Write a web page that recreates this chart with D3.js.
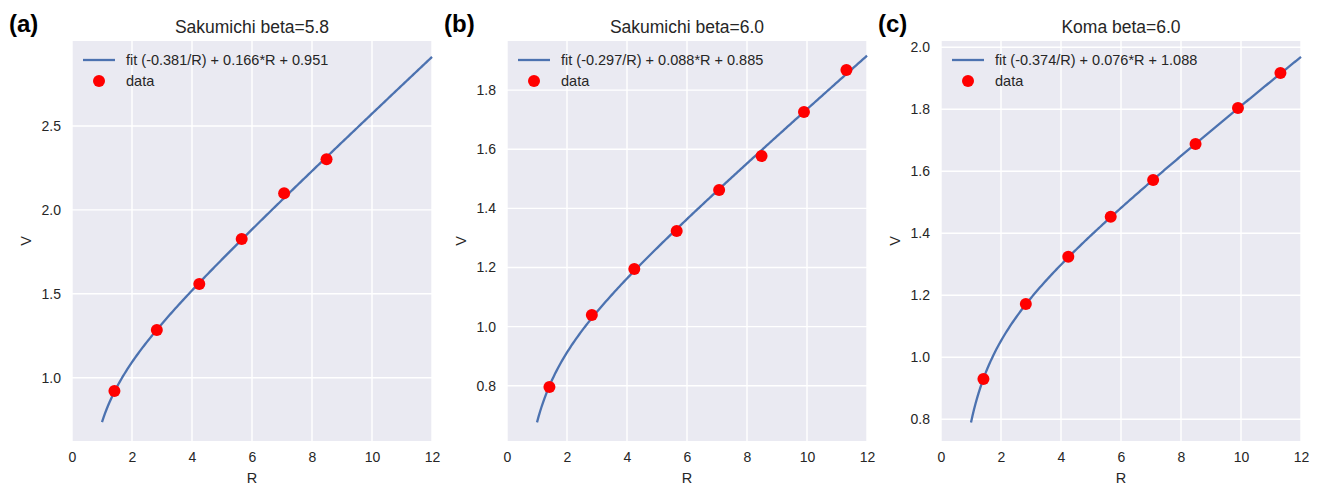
<!DOCTYPE html>
<html>
<head>
<meta charset="utf-8">
<script src="https://cdn.jsdelivr.net/npm/d3@7"></script>
<style>
  body { margin: 0; background: #fff; }
  text { font-family: "Liberation Sans", Arial, sans-serif; fill: #262626; }
  .tick text { font-size: 14px; }
  .titulo { font-size: 17.5px; }
  .rotulo { font-size: 24px; font-weight: bold; fill: #000; }
</style>
</head>
<body>
<svg id="grafico"></svg>
<script>
// Valores
var titulos = ['Sakumichi beta=5.8', 'Sakumichi beta=6.0', 'Koma beta=6.0'];
var rotulos = ['(a)', '(b)', '(c)'];
var legendas = ['fit (-0.381/R) + 0.166*R + 0.951',
                'fit (-0.297/R) + 0.088*R + 0.885',
                'fit (-0.374/R) + 0.076*R + 1.088'];

// Coeficientes do ajuste: V = a/R + b*R + c
var coefA = [-0.381, -0.297, -0.374];
var coefB = [0.166, 0.088, 0.076];
var coefC = [0.951, 0.885, 1.088];

var dadosR = [1.414, 2.828, 4.243, 5.657, 7.071, 8.485, 9.899, 11.314];
var dadosV = [
  [0.921, 1.284, 1.558, 1.826, 2.099, 2.301],
  [0.796, 1.039, 1.195, 1.323, 1.462, 1.577, 1.726, 1.868],
  [0.930, 1.172, 1.324, 1.453, 1.572, 1.688, 1.804, 1.917]
];

var ticksX = [0, 2, 4, 6, 8, 10, 12];
var ticksY = [
  [1.0, 1.5, 2.0, 2.5],
  [0.8, 1.0, 1.2, 1.4, 1.6, 1.8],
  [0.8, 1.0, 1.2, 1.4, 1.6, 1.8, 2.0]
];
var dominioY = [[0.623, 3.006], [0.613, 1.966], [0.730, 2.020]];

var largura = 1320, altura = 486;
var svg = d3.select('#grafico').attr('width', largura).attr('height', altura);

var esquerdas = [72, 507, 941];
var larguraPlot = 360, topo = 41, alturaPlot = 400;

titulos.forEach(function(titulo, i) {
  var g = svg.append('g')
             .attr('transform', 'translate(' + esquerdas[i] + ',' + topo + ')');

  var x = d3.scaleLinear().domain([0, 12]).range([0, larguraPlot]);
  var y = d3.scaleLinear().domain(dominioY[i]).range([alturaPlot, 0]);

  // fundo
  g.append('rect')
   .attr('width', larguraPlot).attr('height', alturaPlot)
   .attr('fill', '#eaeaf2');

  // grade
  g.append('g').selectAll('line').data(ticksX).enter().append('line')
   .attr('x1', d => x(d)).attr('x2', d => x(d))
   .attr('y1', 0).attr('y2', alturaPlot)
   .attr('stroke', '#fff').attr('stroke-width', 1.4);
  g.append('g').selectAll('line').data(ticksY[i]).enter().append('line')
   .attr('x1', 0).attr('x2', larguraPlot)
   .attr('y1', d => y(d)).attr('y2', d => y(d))
   .attr('stroke', '#fff').attr('stroke-width', 1.4);

  // eixos (apenas rótulos)
  var eixoX = g.append('g')
               .attr('transform', 'translate(0,' + alturaPlot + ')')
               .call(d3.axisBottom(x).tickValues(ticksX).tickSize(0).tickPadding(11)
                       .tickFormat(d3.format('d')));
  var eixoY = g.append('g')
               .call(d3.axisLeft(y).tickValues(ticksY[i]).tickSize(0).tickPadding(11)
                       .tickFormat(d3.format('.1f')));
  [eixoX, eixoY].forEach(function(e) {
    e.select('.domain').remove();
    e.selectAll('text').attr('fill', '#262626')
     .style('font-family', '"Liberation Sans", Arial, sans-serif');
  });

  // curva de ajuste
  var curvaR = d3.range(1, 12.0001, 0.05);
  var linha = d3.line()
                .x(r => x(r))
                .y(r => y(coefA[i] / r + coefB[i] * r + coefC[i]));
  g.append('path').datum(curvaR)
   .attr('d', linha)
   .attr('fill', 'none').attr('stroke', '#4c72b0').attr('stroke-width', 2.3);

  // pontos
  g.selectAll('.ponto').data(dadosV[i]).enter().append('circle')
   .attr('class', 'ponto')
   .attr('cx', (d, j) => x(dadosR[j]))
   .attr('cy', d => y(d))
   .attr('r', 6)
   .attr('fill', '#ff0000');

  // legenda
  var leg = g.append('g').attr('transform', 'translate(11,19)');
  leg.append('line').attr('x1', 0).attr('x2', 32).attr('y1', 0).attr('y2', 0)
     .attr('stroke', '#4c72b0').attr('stroke-width', 2.3);
  leg.append('text').attr('x', 43).attr('y', 0).attr('dy', '0.35em')
     .style('font-size', '14.5px').text(legendas[i]);
  leg.append('circle').attr('cx', 16).attr('cy', 21).attr('r', 6).attr('fill', '#ff0000');
  leg.append('text').attr('x', 43).attr('y', 21).attr('dy', '0.35em')
     .style('font-size', '14.5px').text('data');

  // títulos
  g.append('text').attr('class', 'titulo')
   .attr('x', larguraPlot / 2).attr('y', -8)
   .attr('text-anchor', 'middle').text(titulo);
  g.append('text')
   .attr('x', larguraPlot / 2).attr('y', alturaPlot + 42)
   .attr('text-anchor', 'middle').style('font-size', '14.5px').text('R');
  g.append('text')
   .attr('transform', 'translate(-41,' + alturaPlot / 2 + ') rotate(-90)')
   .attr('text-anchor', 'middle').style('font-size', '14.5px').text('V');

  // rótulo do painel
  g.append('text').attr('class', 'rotulo')
   .attr('x', -63).attr('y', -9).text(rotulos[i]);
});
</script>
</body>
</html>
